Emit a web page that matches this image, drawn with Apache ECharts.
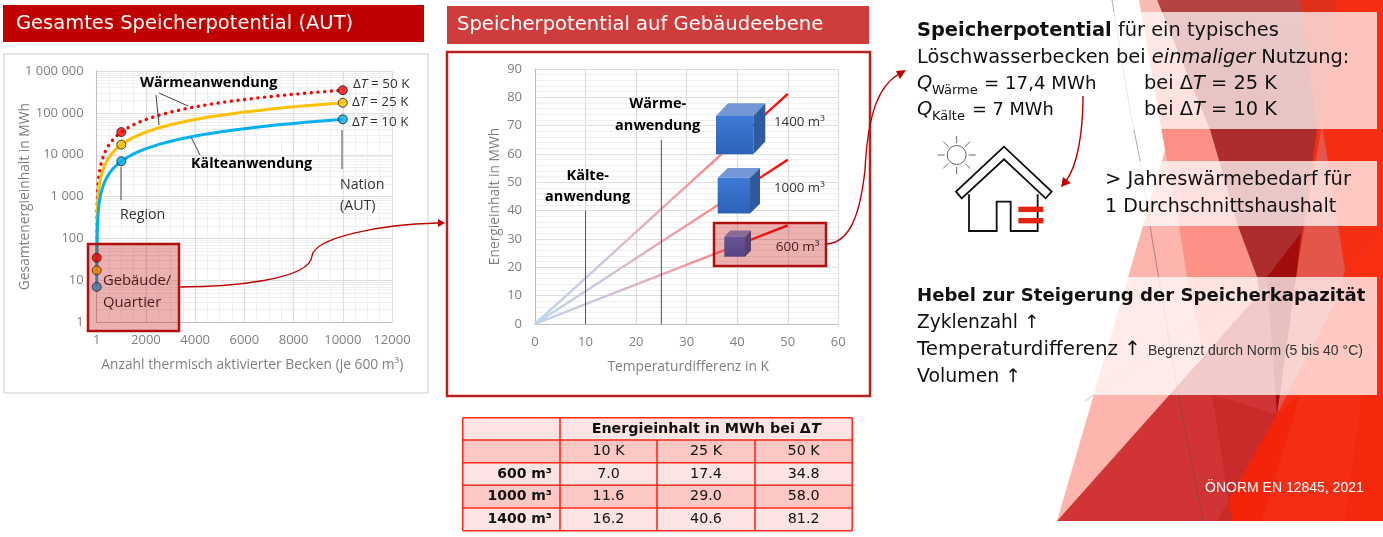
<!DOCTYPE html>
<html><head><meta charset="utf-8">
<style>html,body{margin:0;padding:0;background:#fff}#c{width:1383px;height:537px}</style>
<script src="https://cdn.jsdelivr.net/npm/echarts@6/dist/echarts.min.js"></script>
</head><body><div id="c"></div>
<script>
// ---- data ----
const beckenAnzahl = [1,10,20,30,50,75,100,150,200,300,400,500,600,700,800,900,1000,1250,1500,1750,2000,2500,3000,3500,4000,4500,5000,5500,6000,6500,7000,7500,8000,8500,9000,9500,10000];
const gesamt10K = [7,70,140,210,350,525,700,1050,1400,2100,2800,3500,4200,4900,5600,6300,7000,8750,10500,12250,14000,17500,21000,24500,28000,31500,35000,38500,42000,45500,49000,52500,56000,59500,63000,66500,70000];
const gesamt25K = [17.4,174,348,522,870,1305,1740,2610,3480,5220,6960,8700,10440,12180,13920,15660,17400,21750,26100,30450,34800,43500,52200,60900,69600,78300,87000,95700,104400,113100,121800,130500,139200,147900,156600,165300,174000];
const gesamt50K = [34.8,348,696,1044,1740,2610,3480,5220,6960,10440,13920,17400,20880,24360,27840,31320,34800,43500,52200,60900,69600,87000,104400,121800,139200,156600,174000,191400,208800,226200,243600,261000,278400,295800,313200,330600,348000];
const markerAnzahl = [1,1000,10000];
const deltaT = [10,25,50];
const volumenLabels = ['600 m³','1000 m³','1400 m³'];
const energie600 = [7.0,17.4,34.8];
const energie1000 = [11.6,29.0,58.0];
const energie1400 = [16.2,40.6,81.2];

const UI = '"DejaVu Sans",sans-serif', CH = '"Open Sans",sans-serif', AR = '"Liberation Sans",sans-serif';
const g = [];
const poly = (pts,fill,z=-5,extra={}) => g.push({type:'polygon',z,shape:{points:pts},style:{fill,...extra}});
const rect = (x,y,w,h,fill,stroke,lw,z=1) => g.push({type:'rect',z,shape:{x,y,width:w,height:h},style:{fill:fill||'none',stroke:stroke||'none',lineWidth:lw||0}});
const line = (pts,stroke,lw,z=50) => g.push({type:'polyline',z,shape:{points:pts},style:{fill:'none',stroke,lineWidth:lw}});
const curve = (x1,y1,cpx1,cpy1,cpx2,cpy2,x2,y2,stroke,lw) => g.push({type:'bezierCurve',z:60,shape:{x1,y1,cpx1,cpy1,cpx2,cpy2,x2,y2},style:{fill:'none',stroke,lineWidth:lw}});
const T = (x,y,text,size,o={}) => g.push({type:'text',z:o.z||110,x,y,style:{text,fontFamily:o.ff||UI,fontSize:size,fontWeight:o.w||'normal',fontStyle:o.i?'italic':'normal',fill:o.c||'#111',textAlign:o.a||'left',textVerticalAlign:'middle',rich:o.rich}});

// ---- facet background ----
poly([[1300,0],[1383,0],[1383,521],[1217,521]],'#f62e16');
poly([[1345,521],[1383,521],[1383,395],[1362,395]],'#f3280c');
poly([[1217,521],[1262,521],[1300,395],[1277,414]],'#f3240a');
poly([[1353,270],[1383,232],[1383,300]],'#fa2f12');
poly([[1057,521],[1165,150],[1293,256]],'#fdb5ad');
poly([[1139,0],[1157,0],[1210,130],[1238,226],[1257,277],[1277,414],[1212,395],[1187,277],[1179,226],[1165,150]],
  {type:'linear',x:0,y:0,x2:0,y2:1,colorStops:[{offset:0,color:'#f8bcb4'},{offset:.3,color:'#fe8f85'},{offset:1,color:'#fe9588'}]});
poly([[1322,125],[1345,270],[1335,303],[1277,414],[1297,270]],'#e5564a');
poly([[1300,0],[1337,0],[1322,125],[1317,130]],'#e0301a');
poly([[1157,0],[1300,0],[1317,130],[1297,270],[1277,414],[1257,277],[1238,226],[1210,130]],
  {type:'linear',x:0,y:0,x2:0,y2:1,colorStops:[{offset:0,color:'#b64444'},{offset:.2,color:'#ad2c2c'},{offset:1,color:'#ad2c2c'}]});
poly([[1057,521],[1217,521],[1277,414],[1293,256]],'#d13434');
poly([[1212,395],[1277,414],[1217,521],[1232,521]],'#c92b2b');
poly([[1301,233],[1297,270],[1277,414],[1267,277]],'#a20c0c');
line([[1112,0],[1130,110],[1140,160],[1150,226],[1178,393],[1203,521]],'rgba(90,70,70,.45)',1,-4);
line([[1085,401],[1258,280]],'rgba(150,150,150,.35)',1.2,-4);
rect(1000,12,377,117,'rgba(255,255,255,.72)',null,0,-3);
rect(1000,161,377,65,'rgba(255,255,255,.74)',null,0,-3);
rect(1000,277,377,118,'rgba(255,255,255,.74)',null,0,-3);

// ---- title bars and panels ----
rect(3,5,421,37,'#c00000',null,0,1);
rect(447,6,422,38,'#cf3c3c',null,0,1);
T(16,24,'Gesamtes Speicherpotential (AUT)',19.5,{c:'#fff'});
T(457,25,'Speicherpotential auf Gebäudeebene',19.6,{c:'#fff'});
rect(4,54,424,339,'#fff','#dedede',1.5,-2);
rect(447,52,423,344,'#fff','#b82020',2.5,-2);

// ---- left chart annotations ----
line([[159,93],[188,106]],'#444',1);
line([[156,95],[159,125]],'#444',1);
line([[191,137],[200,155]],'#444',1);
line([[121,167],[121,200]],'#444',1);
line([[342,130],[342,169]],'#444',1);
T(140,83,'Wärmeanwendung',14.5,{ff:CH,w:'bold',c:'#000'});
T(191,164,'Kälteanwendung',14.3,{ff:CH,w:'bold',c:'#000'});
const dT = (x,y,v)=>T(x,y,'Δ{i|T} = '+v+' K',13.5,{ff:CH,c:'#333',rich:{i:{fontStyle:'italic',fontFamily:CH,fontSize:13.5,fill:'#333'}}});
dT(353,84,50); dT(352,102.5,25); dT(352,122,10);
T(340,185,'Nation',14.2,{ff:CH,c:'#333'});
T(340,206,'(AUT)',14.2,{ff:CH,c:'#333'});
T(120,215,'Region',14.2,{ff:CH,c:'#333'});
rect(88,244,91,87,'rgba(192,0,0,.3)','#b01010',2.5,100);
T(103,281,'Gebäude/',14.8,{ff:CH,c:'#4a1a1a'});
T(103,303,'Quartier',14.8,{ff:CH,c:'#4a1a1a'});

// ---- middle chart annotations ----
function cube(x,y,w,h,dx,dy){
  poly([[x,y],[x+dx,y-dy],[x+w+dx,y-dy],[x+w,y]],'#7398d8',40);
  poly([[x+w,y],[x+w+dx,y-dy],[x+w+dx,y+h-dy],[x+w,y+h]],'#2f5a9e',40);
  g.push({type:'rect',z:40,shape:{x,y,width:w,height:h},style:{fill:{type:'linear',x:0,y:0,x2:0,y2:1,colorStops:[{offset:0,color:'#3f7ad6'},{offset:1,color:'#2b62b8'}]}}});
}
cube(716,116,37.3,38.3,12,12.7);
cube(717.7,177.7,32.3,35.7,10,9.7);
cube(724.3,236.7,20.7,20,6,6.3);
rect(714,223,112,43,'rgba(192,0,0,.3)','#b01010',2.5,100);
T(657.7,104,'Wärme-',14.5,{ff:CH,w:'bold',c:'#000',a:'center'});
T(657.7,125.7,'anwendung',14.5,{ff:CH,w:'bold',c:'#000',a:'center'});
T(587.7,176,'Kälte-',14.5,{ff:CH,w:'bold',c:'#000',a:'center'});
T(587.7,197,'anwendung',14.5,{ff:CH,w:'bold',c:'#000',a:'center'});
T(774,122.7,'1400 m³',13.3,{ff:CH,c:'#333'});
T(774,188,'1000 m³',13.3,{ff:CH,c:'#333'});
T(775.7,247,'600 m³',13.5,{ff:CH,c:'#4a1a1a'});

// ---- table ----
const colX=[462.7,560,657,755,852.3], rowY=[417.7,440,462.7,485.3,508,530.7];
const rowFill=['#fde4e4','#fcc8c6','#fde4e4','#fcc8c6','#fde4e4'];
const BR='#ff2a1a';
rowFill.forEach((f,i)=>rect(colX[0],rowY[i],colX[4]-colX[0],rowY[i+1]-rowY[i],f,null,0,5));
rowY.forEach(y=>line([[colX[0],y],[colX[4],y]],BR,1.6,6));
[colX[0],colX[1],colX[4]].forEach(x=>line([[x,rowY[0]],[x,rowY[5]]],BR,1.6,6));
[colX[2],colX[3]].forEach(x=>line([[x,rowY[1]],[x,rowY[5]]],BR,1.6,6));
const cy=i=>(rowY[i]+rowY[i+1])/2, cx=i=>(colX[i+1]+colX[i+2])/2;
T((colX[1]+colX[4])/2,cy(0),'Energieinhalt in MWh bei Δ{i|T}',14.3,{w:'bold',c:'#111',a:'center',rich:{i:{fontStyle:'italic',fontWeight:'bold',fontFamily:UI,fontSize:14.3,fill:'#111'}}});
deltaT.forEach((d,i)=>T(cx(i),cy(1),d+' K',14.3,{a:'center'}));
[energie600,energie1000,energie1400].forEach((row,r)=>{
  T(552,cy(r+2),volumenLabels[r],14,{w:'bold',a:'right'});
  row.forEach((v,i)=>T(cx(i),cy(r+2),v.toFixed(1),14.3,{a:'center'}));
});

// ---- red connector arrows ----
const RED='#c00000';
curve(179,287,230,287,310,280,312,256,RED,1.4);
curve(312,256,314,238,380,224,438,223,RED,1.4);
poly([[438,219],[445,223],[438,227]],RED,60);
curve(827,244,850,242,860,215,865,170,RED,1.4);
curve(865,170,868,110,880,85,899,74,RED,1.4);
poly([[906,70],[896,71],[900,79]],RED,60);
curve(1083,96,1083,130,1078,165,1066,181,RED,1.4);
poly([[1061,187],[1063,177],[1071,183]],RED,60);

// ---- right text ----
const big=19.4, boldS={b:{fontWeight:'bold',fontFamily:UI,fontSize:big,fill:'#111'},i:{fontStyle:'italic',fontFamily:UI,fontSize:big,fill:'#111'}};
T(917,31,'{b|Speicherpotential} für ein typisches',big,{rich:boldS});
T(917,58,'Löschwasserbecken bei {i|einmaliger} Nutzung:',big,{rich:boldS});
T(917,84,'Q',big,{i:1}); T(932,91,'Wärme',13); T(984,84,'= 17,4 MWh',18.2);
T(917,110,'Q',big,{i:1}); T(932,117,'Kälte',13); T(972,110,'= 7 MWh',17.8);
T(1144,84,'bei Δ{i|T} = 25 K',big,{rich:boldS});
T(1144,110,'bei Δ{i|T} = 10 K',big,{rich:boldS});
T(1105,180,'> Jahreswärmebedarf für',19.5);
T(1105,207,'1 Durchschnittshaushalt',19);
T(917,296,'Hebel zur Steigerung der Speicherkapazität',18.1,{w:'bold'});
T(917,323,'Zyklenzahl ↑',18.6);
T(917,350,'Temperaturdifferenz ↑',19.9);
T(1148,351,'Begrenzt durch Norm (5 bis 40 °C)',14,{ff:AR,c:'#333'});
T(917,377,'Volumen ↑',18.9);
T(1205,488,'ÖNORM EN 12845, 2021',14,{ff:AR,c:'#fff'});

// ---- house icon ----
const hx=p=>p.map(([a,b])=>[880+a/3,b/3]);
g.push({type:'polygon',z:30,shape:{points:hx([[372,440],[228,575],[245,595],[372,478],[497,595],[515,575]])},style:{fill:'#fff',stroke:'#111',lineWidth:1.8}});
line(hx([[267,583],[267,693],[350,693],[350,605],[392,605],[392,693],[473,693],[473,583]]),'#111',1.8,30);
rect(880+415/3,620/3,25,5.4,'#e0240f',null,0,30);
rect(880+415/3,654/3,25,5.4,'#e0240f',null,0,30);
const sunX=880+230/3,sunY=155;
g.push({type:'circle',z:30,shape:{cx:sunX,cy:sunY,r:9.5},style:{fill:'#fff',stroke:'#555',lineWidth:.9}});
[[1,0],[-1,0],[0,1],[0,-1],[.707,.707],[-.707,.707],[.707,-.707],[-.707,-.707]].forEach(([a,b])=>line([[sunX+a*12,sunY+b*12],[sunX+a*19,sunY+b*19]],'#555',.9,30));

// ---- chart ----
const pair=(xs,ys)=>xs.map((x,i)=>[x,ys[i]]);
const thousand=v=>String(v).replace(/\B(?=(\d{3})+$)/g,' ');
const axisTxt={color:'#7f7f7f',fontFamily:CH,fontSize:13};
const nameTxt={color:'#7f7f7f',fontFamily:CH,fontSize:13.8};
const major={show:true,lineStyle:{color:'#dedede',width:1.2}}, minor={show:true,lineStyle:{color:'#f0f0f0',width:1}};
const mk=(name,ys,color,lineStyle)=>({name,type:'line',xAxisIndex:0,yAxisIndex:0,data:pair(beckenAnzahl,ys),showSymbol:false,lineStyle:{color,...lineStyle},z:3});
const marks=(ys,color)=>({type:'scatter',xAxisIndex:0,yAxisIndex:0,symbolSize:9,z:5,data:pair(markerAnzahl,ys),itemStyle:{color,borderColor:'#1a1a1a',borderWidth:1}});
const grad=()=>({type:'linear',x:0,y:1,x2:1,y2:0,colorStops:[{offset:0,color:'#bfd8ef'},{offset:.3,color:'#cfc4dc'},{offset:.55,color:'#f0a0ac'},{offset:.75,color:'#ff8080'},{offset:.85,color:'#ff2a2a'},{offset:1,color:'#ff0000'}]});
const ln=(ys)=>({type:'line',xAxisIndex:1,yAxisIndex:1,data:[[0,0],...pair(deltaT,ys)],showSymbol:false,lineStyle:{color:grad(),width:2.4},z:3});
const vline=(x,top)=>({type:'line',xAxisIndex:1,yAxisIndex:1,data:[[x,0],[x,top]],showSymbol:false,lineStyle:{color:'#555',width:1},z:4});
const atMarker=ys=>ys.filter((_,i)=>markerAnzahl.includes(beckenAnzahl[i]));

const chart=echarts.init(document.getElementById('c'),null,{renderer:'canvas'});
chart.setOption({
  animation:false,
  backgroundColor:'#fff',
  grid:[{left:96.7,top:71,width:295.3,height:251.3},{left:535,top:69,width:303.3,height:255}],
  xAxis:[
    {type:'value',gridIndex:0,min:0,max:12000,interval:2000,
     name:'Anzahl thermisch aktivierter Becken (je 600 m³)',nameLocation:'middle',nameGap:36,nameTextStyle:{...nameTxt,padding:[0,0,0,16]},
     axisLine:{lineStyle:{color:'#bfbfbf'}},axisTick:{show:false},
     axisLabel:{...axisTxt,margin:11,hideOverlap:false,formatter:v=>v===0?'1':String(v)},
     splitLine:major,minorTick:{show:false,splitNumber:4},minorSplitLine:minor},
    {type:'value',gridIndex:1,min:0,max:60,interval:10,
     name:'Temperaturdifferenz in K',nameLocation:'middle',nameGap:36,nameTextStyle:{...nameTxt,padding:[0,0,0,3]},
     axisLine:{lineStyle:{color:'#bfbfbf'}},axisTick:{show:false},
     axisLabel:{...axisTxt,margin:12},splitLine:major}
  ],
  yAxis:[
    {type:'log',gridIndex:0,logBase:10,min:1,max:1000000,
     name:'Gesamtenergieinhalt in MWh',nameLocation:'middle',nameGap:65,nameMoveOverlap:false,nameTextStyle:nameTxt,
     axisLine:{show:true,lineStyle:{color:'#bfbfbf'}},axisTick:{show:false},
     axisLabel:{...axisTxt,margin:13,formatter:v=>thousand(v)},
     splitLine:major,minorTick:{show:false,splitNumber:9},minorSplitLine:minor},
    {type:'value',gridIndex:1,min:0,max:90,interval:10,
     name:'Energieinhalt in MWh',nameLocation:'middle',nameGap:33,nameTextStyle:nameTxt,
     axisLine:{show:true,lineStyle:{color:'#bfbfbf'}},axisTick:{show:false},
     axisLabel:{...axisTxt,margin:13},
     splitLine:major,minorTick:{show:false,splitNumber:5},minorSplitLine:minor}
  ],
  graphic:g,
  series:[
    mk('ΔT = 50 K',gesamt50K,'#ff0000',{type:[0.1,6.6],cap:'round',width:3.4}),
    mk('ΔT = 25 K',gesamt25K,'#ffc000',{width:3}),
    mk('ΔT = 10 K',gesamt10K,'#00b0f0',{width:3}),
    marks(atMarker(gesamt50K),'#ff0000'),
    marks(atMarker(gesamt25K),'#ffc000'),
    marks(atMarker(gesamt10K),'#00b0f0'),
    ln(energie600),ln(energie1000),ln(energie1400),
    vline(deltaT[0],40),vline(deltaT[1],65)
  ]
});
</script></body></html>
